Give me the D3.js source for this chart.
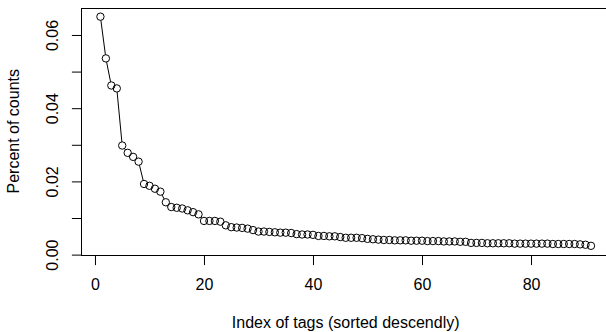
<!DOCTYPE html>
<html>
<head>
<meta charset="utf-8">
<script src="https://cdn.jsdelivr.net/npm/d3@7"></script>
<style>
  html, body { margin: 0; padding: 0; background: #fff; }
  svg { display: block; }
  text { font-family: "Liberation Sans", Arial, Helvetica, sans-serif; fill: #000; }
</style>
</head>
<body>
<svg id="chart" width="606" height="332"></svg>
<script>
// ---- data ----
const percentOfCounts = [
  0.0650, 0.0536, 0.0462, 0.0454, 0.0298, 0.0278, 0.0267, 0.0254, 0.0193, 0.0188,
  0.0180, 0.0172, 0.0143, 0.0130, 0.0128, 0.0126, 0.0121, 0.0116, 0.0110, 0.0092,
  0.0092, 0.0092, 0.0090, 0.0080, 0.0075, 0.0074, 0.0073, 0.0071, 0.0067, 0.0063,
  0.0063, 0.0062, 0.0061, 0.0060, 0.0060, 0.0059, 0.0056, 0.0055, 0.0055, 0.0054,
  0.0051, 0.0051, 0.0050, 0.0050, 0.0048, 0.0046, 0.0046, 0.0046, 0.0045, 0.0043,
  0.0042, 0.0041, 0.0040, 0.0040, 0.0039, 0.0039, 0.0039, 0.0038, 0.0038, 0.0038,
  0.0037, 0.0037, 0.0037, 0.0036, 0.0036, 0.0036, 0.0035, 0.0035, 0.0032, 0.0032,
  0.0032, 0.0031, 0.0031, 0.0031, 0.0031, 0.0031, 0.0030, 0.0030, 0.0030, 0.0030,
  0.0030, 0.0030, 0.0030, 0.0029, 0.0029, 0.0029, 0.0029, 0.0029, 0.0028, 0.0027,
  0.0024
];
const tagIndex = percentOfCounts.map((d, i) => i + 1);
const xTicks = [0, 20, 40, 60, 80];
const yTicks = [0.00, 0.01, 0.02, 0.03, 0.04, 0.05, 0.06];
const yTickLabels = ["0.00", "", "0.02", "", "0.04", "", "0.06"];
const xTitle = "Index of tags (sorted descendly)";
const yTitle = "Percent of counts";

// ---- layout ----
const svg = d3.select("#chart");
const plot = { left: 80.8, right: 610.6, top: 7.5, bottom: 255 };
const lh = 19.2;          // R "line" height
const fontSize = 16;

// R-style 4% range extension
function extend(ext) { const d = (ext[1] - ext[0]) * 0.04; return [ext[0] - d, ext[1] + d]; }

const x = d3.scaleLinear().domain(extend(d3.extent(tagIndex))).range([plot.left, plot.right]);
const y = d3.scaleLinear().domain(extend(d3.extent(percentOfCounts))).range([plot.bottom, plot.top]);

// box
svg.append("rect")
  .attr("x", Math.round(plot.left) + 0.5).attr("y", Math.round(plot.top) + 0.5)
  .attr("width", plot.right - plot.left).attr("height", Math.round(plot.bottom) - Math.round(plot.top))
  .attr("fill", "none").attr("stroke", "#000").attr("stroke-width", 1);

// x axis
const xAxis = d3.axisBottom(x).tickValues(xTicks).tickFormat(d3.format("d"))
  .tickSizeInner(lh * 0.5).tickSizeOuter(0).tickPadding(0);
const gx = svg.append("g").attr("transform", `translate(0,${Math.round(plot.bottom) + 0.5})`).call(xAxis);
gx.select(".domain").remove();
gx.selectAll(".tick line").attr("stroke", "#000");
gx.selectAll(".tick text")
  .attr("y", lh * 1.8 - 0.5).attr("dy", null)
  .style("font-size", fontSize + "px").style("font-family", '"Liberation Sans", Arial, sans-serif')
  .attr("fill", "#000");

// y axis
const yAxis = d3.axisLeft(y).tickValues(yTicks).tickFormat((d, i) => yTickLabels[i])
  .tickSizeInner(lh * 0.5).tickSizeOuter(0).tickPadding(0);
const gy = svg.append("g").attr("transform", `translate(${Math.round(plot.left) + 0.5},0)`).call(yAxis);
gy.select(".domain").remove();
gy.selectAll(".tick line").attr("stroke", "#000");
gy.selectAll(".tick text")
  .attr("x", null).attr("dy", null)
  .attr("text-anchor", "middle")
  .attr("transform", `translate(${-lh * 1.2},0) rotate(-90)`)
  .style("font-size", fontSize + "px").style("font-family", '"Liberation Sans", Arial, sans-serif')
  .attr("fill", "#000");

// titles
svg.append("text")
  .attr("x", (plot.left + plot.right) / 2).attr("y", plot.bottom + lh * 3.8)
  .attr("text-anchor", "middle").style("font-size", fontSize + "px")
  .text(xTitle);
svg.append("text")
  .attr("transform", `translate(${plot.left - lh * 3.2},${(plot.top + plot.bottom) / 2}) rotate(-90)`)
  .attr("text-anchor", "middle").style("font-size", fontSize + "px")
  .text(yTitle);

// type = "b": line segments with gaps around points
const r = 3.7;
const pts = tagIndex.map((t, i) => [x(t), y(percentOfCounts[i])]);
const segs = [];
for (let i = 0; i < pts.length - 1; i++) {
  const [x0, y0] = pts[i], [x1, y1] = pts[i + 1];
  const len = Math.hypot(x1 - x0, y1 - y0);
  if (len > 2 * r) {
    const ux = (x1 - x0) / len, uy = (y1 - y0) / len;
    segs.push([x0 + ux * r, y0 + uy * r, x1 - ux * r, y1 - uy * r]);
  }
}
svg.append("g").selectAll("line").data(segs).join("line")
  .attr("x1", d => d[0]).attr("y1", d => d[1]).attr("x2", d => d[2]).attr("y2", d => d[3])
  .attr("stroke", "#000").attr("stroke-width", 1);

svg.append("g").selectAll("circle").data(percentOfCounts).join("circle")
  .attr("cx", (d, i) => x(tagIndex[i])).attr("cy", d => y(d)).attr("r", r)
  .attr("fill", "none").attr("stroke", "#000").attr("stroke-width", 1);
</script>
</body>
</html>
